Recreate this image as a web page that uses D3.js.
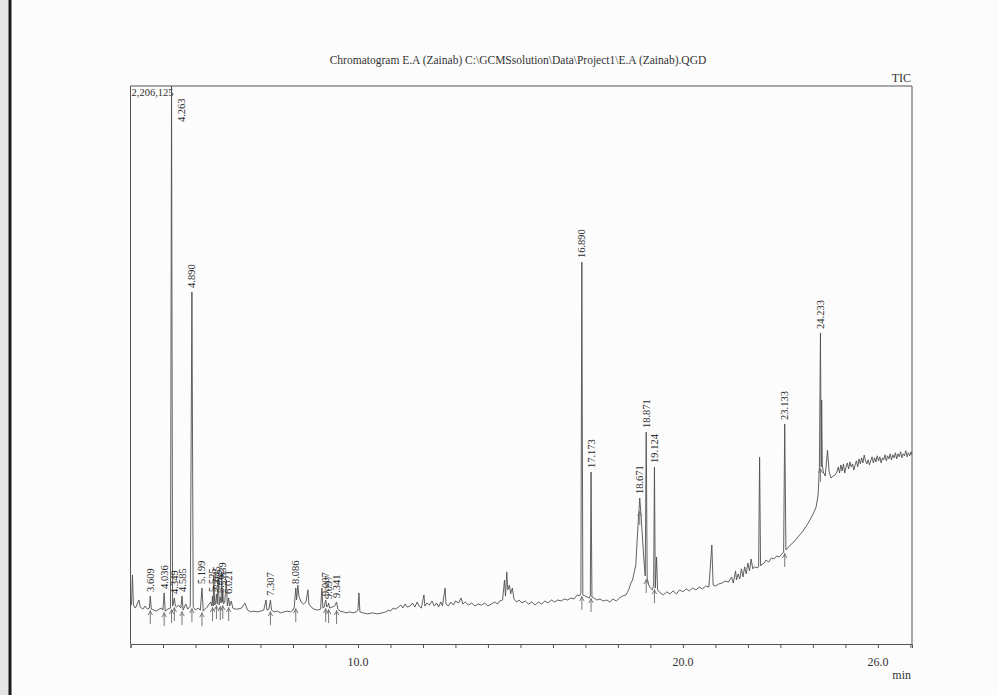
<!DOCTYPE html>
<html><head><meta charset="utf-8">
<script src="https://cdn.jsdelivr.net/npm/d3@7"></script>
<style>body{margin:0;background:#fcfcfc}svg{display:block}</style>
</head><body><svg id="c" width="998" height="695"></svg>
<script>
const titleText = "Chromatogram E.A (Zainab) C:\\GCMSsolution\\Data\\Project1\\E.A (Zainab).QGD";
const seriesName = "TIC";
const maxCountLabel = "2,206,125";
const maxCountK = 2206.125;
const unitLabel = "min";
const xMinorTicks = [3,4,5,6,7,8,9,10,11,12,13,14,15,16,17,18,19,20,21,22,23,24,25,26,27];
const xTickLabelVals = [10, 20, 26];
const xTickLabels = ["10.0", "20.0", "26.0"];

// retention time (min)
const rtMin = [3.000,3.030,3.060,3.090,3.150,3.220,3.260,3.300,3.380,3.450,3.520,3.580,3.609,3.640,3.720,3.800,3.880,3.960,4.000,4.036,4.070,4.150,4.230,4.263,4.295,4.320,4.349,4.380,4.420,4.480,4.550,4.585,4.620,4.700,4.760,4.840,4.890,4.930,5.000,5.080,5.150,5.199,5.240,5.300,5.360,5.420,5.470,5.500,5.525,5.545,5.565,5.590,5.620,5.645,5.670,5.700,5.730,5.762,5.790,5.810,5.825,5.839,5.860,5.900,5.950,5.980,6.021,6.050,6.100,6.150,6.220,6.300,6.420,6.520,6.600,6.700,6.800,6.900,7.000,7.100,7.170,7.200,7.260,7.307,7.340,7.420,7.520,7.620,7.720,7.820,7.920,8.000,8.040,8.086,8.110,8.150,8.180,8.250,8.320,8.400,8.460,8.490,8.560,8.650,8.750,8.850,8.890,8.920,8.960,9.007,9.040,9.070,9.097,9.130,9.200,9.280,9.341,9.380,9.450,9.550,9.650,9.750,9.850,9.950,10.000,10.030,10.060,10.150,10.300,10.450,10.600,10.750,10.850,10.950,11.000,11.080,11.150,11.250,11.320,11.380,11.450,11.520,11.600,11.680,11.750,11.820,11.880,11.950,12.030,12.060,12.120,12.200,12.280,12.350,12.420,12.480,12.550,12.600,12.680,12.710,12.780,12.860,12.940,13.000,13.100,13.170,13.230,13.300,13.400,13.500,13.600,13.700,13.800,13.900,14.000,14.100,14.200,14.300,14.360,14.450,14.510,14.540,14.580,14.610,14.660,14.700,14.750,14.800,14.880,14.960,15.050,15.150,15.250,15.350,15.450,15.550,15.650,15.750,15.850,15.950,16.050,16.150,16.250,16.350,16.450,16.550,16.650,16.750,16.820,16.860,16.890,16.920,16.980,17.050,17.120,17.150,17.173,17.200,17.260,17.350,17.450,17.550,17.650,17.750,17.850,17.950,18.050,18.150,18.250,18.330,18.400,18.450,18.550,18.610,18.650,18.671,18.700,18.740,18.790,18.840,18.871,18.900,18.950,19.000,19.060,19.100,19.124,19.150,19.190,19.220,19.300,19.400,19.500,19.600,19.700,19.800,19.900,20.000,20.100,20.200,20.300,20.400,20.500,20.600,20.700,20.800,20.890,20.930,21.000,21.100,21.200,21.300,21.400,21.500,21.550,21.620,21.650,21.700,21.750,21.800,21.850,21.900,21.950,22.000,22.050,22.100,22.150,22.200,22.280,22.330,22.360,22.390,22.440,22.500,22.560,22.640,22.720,22.800,22.880,22.960,23.050,23.100,23.133,23.170,23.230,23.300,23.380,23.460,23.540,23.620,23.700,23.780,23.860,23.940,24.020,24.100,24.160,24.200,24.233,24.255,24.270,24.290,24.320,24.380,24.450,24.500,24.560,24.620,24.680,24.740,24.780,24.820,24.860,24.900,24.940,24.980,25.020,25.060,25.100,25.140,25.180,25.220,25.260,25.300,25.340,25.380,25.420,25.460,25.500,25.540,25.580,25.620,25.660,25.700,25.740,25.780,25.820,25.860,25.900,25.940,25.980,26.020,26.060,26.100,26.140,26.180,26.220,26.260,26.300,26.340,26.380,26.420,26.460,26.500,26.540,26.580,26.620,26.660,26.700,26.740,26.780,26.820,26.860,26.900,26.940,26.980,27.020,27.050];

// TIC intensity (thousand counts)
const ticK = [150,158,273,154,142,162,174,146,138,150,138,142,190,138,134,130,138,142,134,202,130,138,142,2206,150,162,182,150,146,154,142,190,134,158,138,150,1392,146,134,142,134,221,130,138,146,158,166,150,190,150,273,154,162,198,158,261,154,186,162,285,166,214,158,166,253,150,182,150,170,142,138,138,142,162,134,127,130,127,130,134,174,134,138,174,134,127,130,123,127,130,127,134,146,221,174,233,190,166,158,166,214,158,146,138,134,138,221,142,146,174,146,150,162,142,146,150,166,138,130,127,123,127,123,127,134,202,127,123,119,123,119,123,127,134,130,142,138,146,154,142,158,146,150,162,146,166,150,142,194,150,162,154,170,150,162,146,166,150,221,158,150,166,154,170,162,182,158,166,154,162,150,158,154,162,150,158,166,158,170,174,253,190,285,214,233,198,221,178,166,174,162,170,158,166,154,166,158,170,162,174,166,174,170,178,174,182,178,194,190,202,1510,194,190,186,182,190,680,186,182,174,178,170,174,166,178,170,182,190,194,214,241,253,312,451,530,577,530,451,352,269,838,261,233,221,214,233,700,221,344,214,202,194,206,198,210,198,214,206,218,210,221,214,225,218,229,225,391,233,229,237,241,249,245,265,241,289,253,277,257,297,265,305,277,320,289,336,297,305,301,305,739,309,316,320,332,324,340,336,348,344,356,364,870,372,380,391,399,411,423,435,447,463,479,498,518,542,589,700,1230,700,965,708,680,664,767,680,656,664,668,680,700,676,708,684,712,676,700,716,692,720,700,712,688,708,724,700,732,712,736,716,747,724,712,728,708,724,740,716,736,720,744,724,740,716,736,728,748,724,744,732,752,728,748,736,756,732,752,740,760,736,752,744,764,740,756,744,760,748];

// labelled peaks (retention time, min)
const peakRt = [3.609,4.036,4.263,4.349,4.585,4.890,5.199,5.525,5.645,5.762,5.839,6.021,7.307,8.086,9.007,9.097,9.341,16.890,17.173,18.671,18.871,19.124,23.133,24.233];
const peakLabels = ["3.609","4.036","4.263","4.349","4.585","4.890","5.199","5.525","5.645","5.762","5.839","6.021","7.307","8.086","9.007","9.097","9.341","16.890","17.173","18.671","18.871","19.124","23.133","24.233"];

const svg = d3.select("#c");
const W = 998, H = 695;
const plot = {left: 130.5, right: 912, top: 86, bottom: 644};
const serif = "'Liberation Serif','Times New Roman',serif";
const ink = "#333";

// scan edge
svg.append("rect").attr("x",0).attr("y",0).attr("width",W).attr("height",H).attr("fill","#fcfcfc");
svg.append("rect").attr("x",0).attr("y",0).attr("width",9).attr("height",H).attr("fill","#e4e4e4");
svg.append("line").attr("x1",10).attr("x2",10).attr("y1",0).attr("y2",H).attr("stroke","#1b1b1b").attr("stroke-width",3);

const x = d3.scaleLinear().domain([3, 27.05]).range([plot.left, plot.right]);
const y = d3.scaleLinear().domain([0, maxCountK]).range([plot.bottom, plot.top]);

// title
svg.append("text").attr("x", 518).attr("y", 64).attr("text-anchor","middle")
  .attr("font-family", serif).attr("font-size", 11.5).attr("fill", ink).text(titleText);
svg.append("text").attr("x", plot.right - 1).attr("y", 82).attr("text-anchor","end")
  .attr("font-family", serif).attr("font-size", 12).attr("fill", ink).text(seriesName);

// frame
const frame = svg.append("g").attr("stroke","#555").attr("stroke-width",1).attr("fill","none");
frame.append("path").attr("d", `M${plot.left},${plot.bottom}V${plot.top}H${plot.right}V${plot.bottom}`);

// x axis
const xAxis = d3.axisBottom(x).tickValues(xMinorTicks).tickSize(4).tickFormat(()=> "");
const ax = svg.append("g").attr("transform", `translate(0,${plot.bottom})`).call(xAxis);
ax.select(".domain").attr("stroke","#555");
ax.selectAll(".tick line").attr("stroke","#555");
const lab = svg.append("g");
lab.selectAll("text").data(xTickLabelVals).join("text")
  .attr("x", d => x(d)).attr("y", plot.bottom + 22).attr("text-anchor","middle")
  .attr("font-family", serif).attr("font-size", 12).attr("fill", ink)
  .text((d,i) => xTickLabels[i]);
svg.append("text").attr("x", plot.right - 1).attr("y", plot.bottom + 35).attr("text-anchor","end")
  .attr("font-family", serif).attr("font-size", 12).attr("fill", ink).text(unitLabel);

// max intensity label
svg.append("text").attr("x", plot.left + 1).attr("y", plot.top + 9.5)
  .attr("font-family", serif).attr("font-size", 10.5).attr("fill", ink).text(maxCountLabel);

// trace
svg.append("clipPath").attr("id","pc").append("rect")
  .attr("x", plot.left).attr("y", plot.top).attr("width", plot.right - plot.left).attr("height", plot.bottom - plot.top);
const idx = d3.range(rtMin.length);
const line = d3.line().x(i => x(rtMin[i])).y(i => y(ticK[i]));
svg.append("path").attr("clip-path","url(#pc)").attr("d", line(idx))
  .attr("fill","none").attr("stroke","#4f4f4f").attr("stroke-width",0.9).attr("stroke-linejoin","round");

// peak labels and integration marks
const pk = svg.append("g");
peakRt.forEach((t, k) => {
  const i = rtMin.findIndex(v => Math.abs(v - t) < 1e-6);
  const px = x(t);
  const apexY = y(ticK[i]);
  const base = Math.min(ticK[i-1], ticK[i+1]);
  const by = y(base);
  pk.append("line").attr("x1", px).attr("x2", px).attr("y1", by + 1).attr("y2", by + 15)
    .attr("stroke", "#6a6a6a").attr("stroke-width", 0.9);
  pk.append("path").attr("d", `M${px-2.2},${by+6}L${px},${by+2}L${px+2.2},${by+6}`)
    .attr("fill","none").attr("stroke","#6a6a6a").attr("stroke-width",0.9);
  let lx = px, ly = apexY - 4;
  if (ly - 34 < plot.top) { lx = px + 10; ly = plot.top + 36; }
  pk.append("text").attr("transform", `translate(${lx},${ly}) rotate(-90)`)
    .attr("dominant-baseline","central").attr("text-anchor","start")
    .attr("font-family", serif).attr("font-size", 10.5).attr("fill", "#2a2a2a")
    .text(peakLabels[k]);
});
</script></body></html>
